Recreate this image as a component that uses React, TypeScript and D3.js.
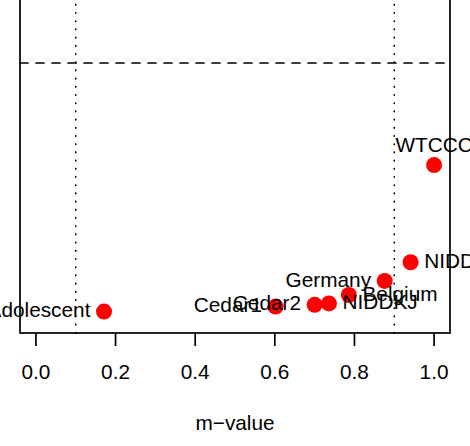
import { useEffect, useRef } from "react";
import * as d3 from "d3";

// studies and their values
const studies = ["Adolescent", "Cedar1", "Cedar2", "NIDDKJ", "Belgium", "Germany", "NIDDK", "WTCCC"];
const mValues = [0.171, 0.602, 0.7, 0.736, 0.786, 0.876, 0.941, 1.0];
const logP = [0.24, 0.38, 0.43, 0.47, 0.71, 1.11, 1.64, 4.4];
const xTicks = [0, 0.2, 0.4, 0.6, 0.8, 1.0];
const mCutoffs = [0.1, 0.9];
const pThreshold = 7.3;

// where each label sits relative to its point (like R's pos)
const labelSide: Record<string, string> = {
  Adolescent: "left",
  Cedar1: "left",
  Cedar2: "left",
  NIDDKJ: "right",
  Belgium: "right",
  Germany: "left",
  NIDDK: "right",
  WTCCC: "top",
};

const W = 470;
const H = 446;
const FONT = "'Liberation Sans', Arial, Helvetica, sans-serif";

export default function App() {
  const ref = useRef<SVGSVGElement>(null);

  useEffect(() => {
    document.body.style.margin = "0";
    const svg = d3.select(ref.current);
    svg.selectAll("*").remove();

    const x = d3.scaleLinear().domain([-0.04, 1.04]).range([20, 450]);
    const y = d3.scaleLinear().domain([0, pThreshold]).range([320, 63]);
    const boxTop = -20;
    const boxBottom = 333;

    // reference lines
    mCutoffs.forEach((m) => {
      svg
        .append("line")
        .attr("x1", x(m))
        .attr("x2", x(m))
        .attr("y1", boxTop)
        .attr("y2", boxBottom)
        .attr("stroke", "#000")
        .attr("stroke-width", 1.7)
        .attr("stroke-linecap", "round")
        .attr("stroke-dasharray", "0.3 7.9");
    });

    svg
      .append("line")
      .attr("x1", x.range()[0])
      .attr("x2", x.range()[1])
      .attr("y1", y(pThreshold))
      .attr("y2", y(pThreshold))
      .attr("stroke", "#000")
      .attr("stroke-width", 1.7)
      .attr("stroke-linecap", "round")
      .attr("stroke-dasharray", "8 8");

    // points
    const rows = studies.map((s, i) => ({ name: s, m: mValues[i], p: logP[i] }));
    svg
      .append("g")
      .selectAll("circle")
      .data(rows)
      .join("circle")
      .attr("cx", (d) => x(d.m))
      .attr("cy", (d) => y(d.p))
      .attr("r", 8)
      .attr("fill", "#ff0000");

    // labels on top of the points
    svg
      .append("g")
      .attr("font-family", FONT)
      .attr("font-size", 20.8)
      .selectAll("text")
      .data(rows)
      .join("text")
      .attr("x", (d) => {
        const side = labelSide[d.name];
        if (side === "left") return x(d.m) - 13.6;
        if (side === "right") return x(d.m) + 13.6;
        return x(d.m);
      })
      .attr("y", (d) => (labelSide[d.name] === "top" ? y(d.p) - 13.3 : y(d.p) + 5.6))
      .attr("text-anchor", (d) => {
        const side = labelSide[d.name];
        return side === "left" ? "end" : side === "right" ? "start" : "middle";
      })
      .attr("fill", "#000")
      .text((d) => d.name);

    // plot box
    svg
      .append("rect")
      .attr("x", x.range()[0])
      .attr("y", boxTop)
      .attr("width", x.range()[1] - x.range()[0])
      .attr("height", boxBottom - boxTop)
      .attr("fill", "none")
      .attr("stroke", "#000")
      .attr("stroke-width", 1.7);

    // x axis, R style
    const axis = svg.append("g").attr("transform", `translate(0,${boxBottom})`);
    axis
      .selectAll("line")
      .data(xTicks)
      .join("line")
      .attr("x1", (d) => x(d))
      .attr("x2", (d) => x(d))
      .attr("y1", 0)
      .attr("y2", 13)
      .attr("stroke", "#000")
      .attr("stroke-width", 1.7);
    axis
      .selectAll("text")
      .data(xTicks)
      .join("text")
      .attr("x", (d) => x(d))
      .attr("y", 46.3)
      .attr("text-anchor", "middle")
      .attr("font-family", FONT)
      .attr("font-size", 20.8)
      .attr("fill", "#000")
      .text((d) => d3.format(".1f")(d));

    svg
      .append("text")
      .attr("x", (x.range()[0] + x.range()[1]) / 2)
      .attr("y", 430)
      .attr("text-anchor", "middle")
      .attr("font-family", FONT)
      .attr("font-size", 20.8)
      .attr("fill", "#000")
      .text("m\u2212value");
  }, []);

  return (
    <svg
      ref={ref}
      width={W}
      height={H}
      style={{ position: "absolute", left: 0, top: 0, background: "#fff" }}
    />
  );
}
